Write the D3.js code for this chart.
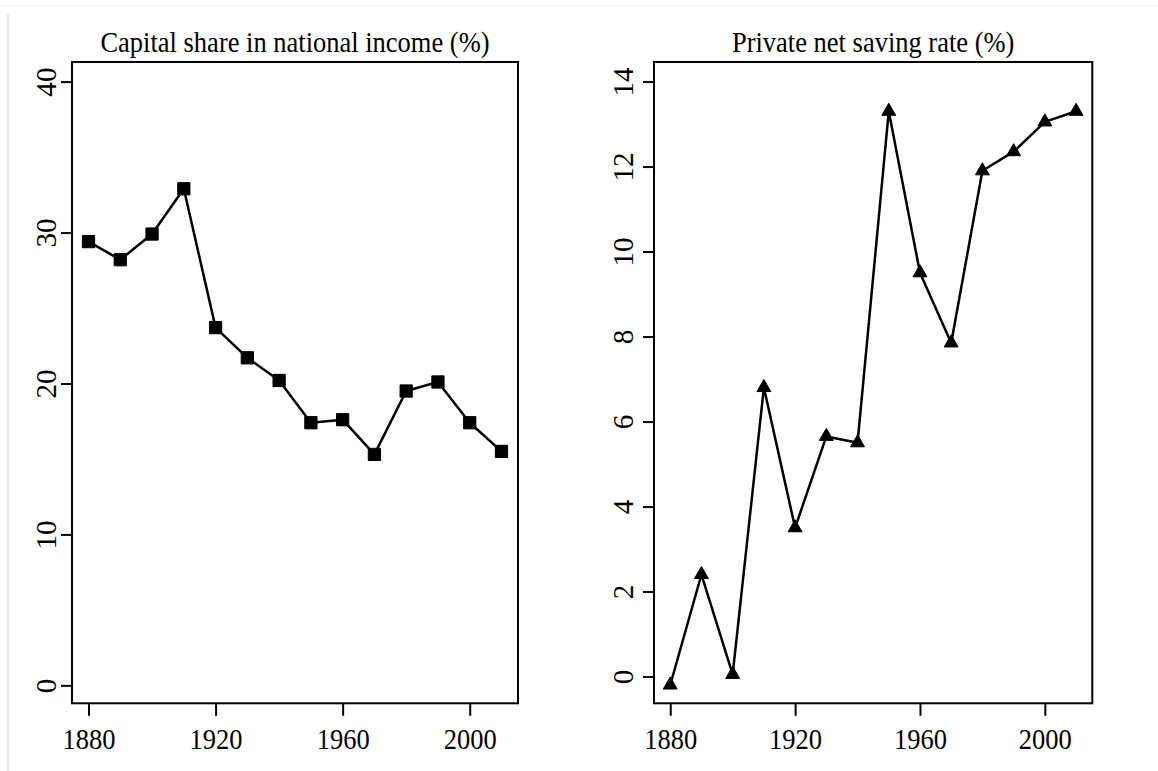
<!DOCTYPE html>
<html>
<head>
<meta charset="utf-8">
<script src="https://cdn.jsdelivr.net/npm/d3@7"></script>
<style>
  html, body { margin: 0; padding: 0; background: #fff; }
  svg { display: block; }
  text { font-family: "Liberation Serif", "Times New Roman", serif; fill: #000; }
</style>
</head>
<body>
<svg id="chart" width="1158" height="771"></svg>
<script>
// ---- data ----
const years = [1880, 1890, 1900, 1910, 1920, 1930, 1940, 1950, 1960, 1970, 1980, 1990, 2000, 2010];
const capitalShare = [29.4, 28.2, 29.9, 32.9, 23.7, 21.7, 20.2, 17.4, 17.6, 15.3, 19.5, 20.1, 17.4, 15.5];
const savingRate = [-0.2, 2.4, 0.05, 6.8, 3.5, 5.65, 5.5, 13.3, 9.5, 7.85, 11.9, 12.35, 13.05, 13.3];
const yearTicks = [1880, 1920, 1960, 2000];
const capitalTicks = [0, 10, 20, 30, 40];
const savingTicks = [0, 2, 4, 6, 8, 10, 12, 14];
const titles = ["Capital share in national income (%)", "Private net saving rate (%)"];

const svg = d3.select("#chart");
const FONT = 26.5;
const VS = 1.15; // vertical stretch of text in reference

// faint outer frame lines as in reference
svg.append("line").attr("x1", 0).attr("x2", 1158).attr("y1", 6.5).attr("y2", 6.5)
  .attr("stroke", "#f0f0f0").attr("stroke-width", 1);
svg.append("line").attr("x1", 8).attr("x2", 8).attr("y1", 14).attr("y2", 771)
  .attr("stroke", "#d4d4d4").attr("stroke-width", 1);

const panels = [
  { title: titles[0], values: capitalShare, ticks: capitalTicks, yDomain: [-1.19, 41.3],
    x0: 72, x1: 518, labelX: 56, symbol: d3.symbolSquare, symSize: 150 },
  { title: titles[1], values: savingRate, ticks: savingTicks, yDomain: [-0.63, 14.46],
    x0: 654, x1: 1092.3, labelX: 633, symbol: d3.symbolTriangle, symSize: 84 }
];
const yTop = 62, yBot = 703.3;

panels.forEach(p => {
  const x = d3.scaleLinear().domain([1874.8, 2015.2]).range([p.x0, p.x1]);
  const y = d3.scaleLinear().domain(p.yDomain).range([yBot, yTop]);
  const g = svg.append("g");

  // box
  g.append("rect").attr("x", p.x0).attr("y", yTop)
    .attr("width", p.x1 - p.x0).attr("height", yBot - yTop)
    .attr("fill", "none").attr("stroke", "#000").attr("stroke-width", 2);

  // title
  g.append("text")
    .attr("transform", `translate(${(p.x0 + p.x1) / 2},52) scale(1,${VS})`)
    .attr("text-anchor", "middle").attr("font-size", FONT).text(p.title);

  // x axis
  const xa = g.append("g").attr("transform", `translate(0,${yBot})`)
    .call(d3.axisBottom(x).tickValues(yearTicks).tickFormat(d3.format("d")).tickSize(12.5));
  xa.select(".domain").remove();
  xa.selectAll(".tick line").attr("stroke", "#000").attr("stroke-width", 2);
  xa.selectAll(".tick text").attr("y", null).attr("dy", null)
    .attr("transform", `translate(0,${749 - yBot}) scale(1,${VS})`)
    .attr("font-size", FONT).attr("font-family", "Liberation Serif").attr("fill", "#000");

  // y axis
  const ya = g.append("g").attr("transform", `translate(${p.x0},0)`)
    .call(d3.axisLeft(y).tickValues(p.ticks).tickFormat(d3.format("d")).tickSize(11));
  ya.select(".domain").remove();
  ya.selectAll(".tick line").attr("stroke", "#000").attr("stroke-width", 2);
  ya.selectAll(".tick text")
    .attr("x", null).attr("dy", null)
    .attr("text-anchor", "middle")
    .attr("transform", `translate(${p.labelX - p.x0},0) rotate(-90) scale(1.1,${VS})`)
    .attr("font-size", FONT).attr("font-family", "Liberation Serif").attr("fill", "#000");

  // line
  const line = d3.line().x((d, i) => x(years[i])).y(d => y(d));
  g.append("path").datum(p.values).attr("d", line)
    .attr("fill", "none").attr("stroke", "#000").attr("stroke-width", 2.5)
    .attr("stroke-linejoin", "round");

  // markers
  const sym = d3.symbol().type(p.symbol).size(p.symSize);
  g.selectAll(".pt").data(p.values).enter().append("path")
    .attr("transform", (d, i) => `translate(${x(years[i])},${y(d)})`)
    .attr("d", sym).attr("fill", "#000").attr("stroke", "#000").attr("stroke-width", 1);
});
</script>
</body>
</html>
